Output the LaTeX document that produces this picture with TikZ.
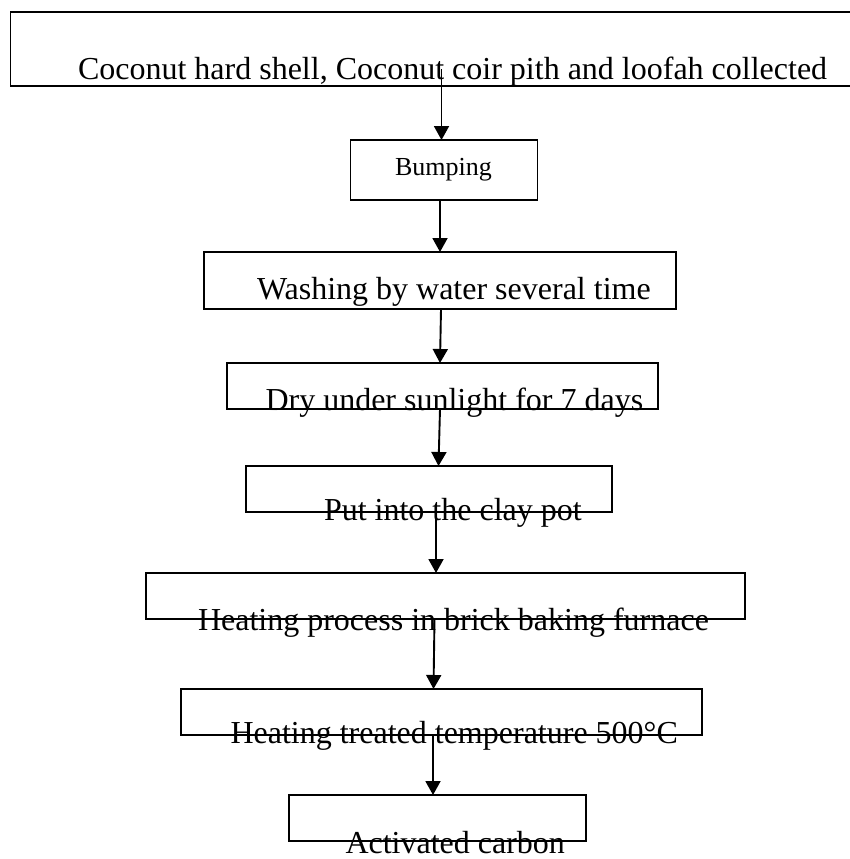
\documentclass[tikz,border=0pt]{standalone}
\usepackage{fontspec}
\setmainfont{Liberation Serif}
\usetikzlibrary{arrows.meta}
\begin{document}
\begin{tikzpicture}[x=1pt,y=-1pt,
  box/.style={draw, rectangle, line width=1.4pt, inner sep=0pt, outer sep=0pt},
  lbl/.style={anchor=base west, inner sep=0pt, outer sep=0pt, font=\fontsize{32}{38}\selectfont},
  arr/.style={-{Triangle[width=15pt,length=14pt]}, line width=1.9pt}]
\useasboundingbox (0,0) rectangle (849,859);
% boxes
\node[box, line width=1.7pt, minimum width=859.5pt, minimum height=74pt] (b1) at (440.25,49) {};
\node[box, minimum width=187pt, minimum height=60pt] (b2) at (444,170) {};
\node[box, minimum width=472pt, minimum height=57pt] (b3) at (440,280.5) {};
\node[box, minimum width=431pt, minimum height=46pt] (b4) at (442.5,386) {};
\node[box, minimum width=366pt, minimum height=46pt] (b5) at (429,489) {};
\node[box, minimum width=599pt, minimum height=46pt] (b6) at (445.5,596) {};
\node[box, minimum width=521pt, minimum height=46pt] (b7) at (441.5,712) {};
\node[box, minimum width=297pt, minimum height=46pt] (b8) at (437.5,818) {};
% connector columns
\coordinate (p1s) at (441.5,69.3);
\coordinate (p1e) at (441.5,0);
\coordinate (p2) at (440,0);
\coordinate (p3s) at (441,0);
\coordinate (p3e) at (440,0);
\coordinate (p4s) at (440,0);
\coordinate (p4e) at (438.5,0);
\coordinate (p5) at (436,0);
\coordinate (p6s) at (434.5,0);
\coordinate (p6e) at (433.5,0);
\coordinate (p7) at (433,0);
% connectors
\draw[arr] (p1s) -- (b2.north -| p1e);
\draw[arr] (b2.south -| p2) -- (b3.north -| p2);
\draw[arr] (b3.south -| p3s) -- (b4.north -| p3e);
\draw[arr] (b4.south -| p4s) -- (b5.north -| p4e);
\draw[arr] (b5.south -| p5) -- (b6.north -| p5);
\draw[arr] (b6.south -| p6s) -- (b7.north -| p6e);
\draw[arr] (b7.south -| p7) -- (b8.north -| p7);
% texts
\node[lbl] (t1) at (78,79) {Coconut hard shell, Coconut coir pith and loofah collected};
\node[lbl, font=\fontsize{26}{31}\selectfont] (t2) at (395,175) {Bumping};
\node[lbl] (t3) at (257,299) {Washing by water several time};
\node[lbl] (t4) at (265.5,410) {Dry under sunlight for 7 days};
\node[lbl] (t5) at (324,520.5) {Put into the clay pot};
\node[lbl] (t6) at (198,630.5) {Heating process in brick baking furnace};
\node[lbl] (t7) at (230.5,743) {Heating treated temperature 500°C};
\node[lbl] (t8) at (345.5,853.5) {Activated carbon};
\end{tikzpicture}
\end{document}
